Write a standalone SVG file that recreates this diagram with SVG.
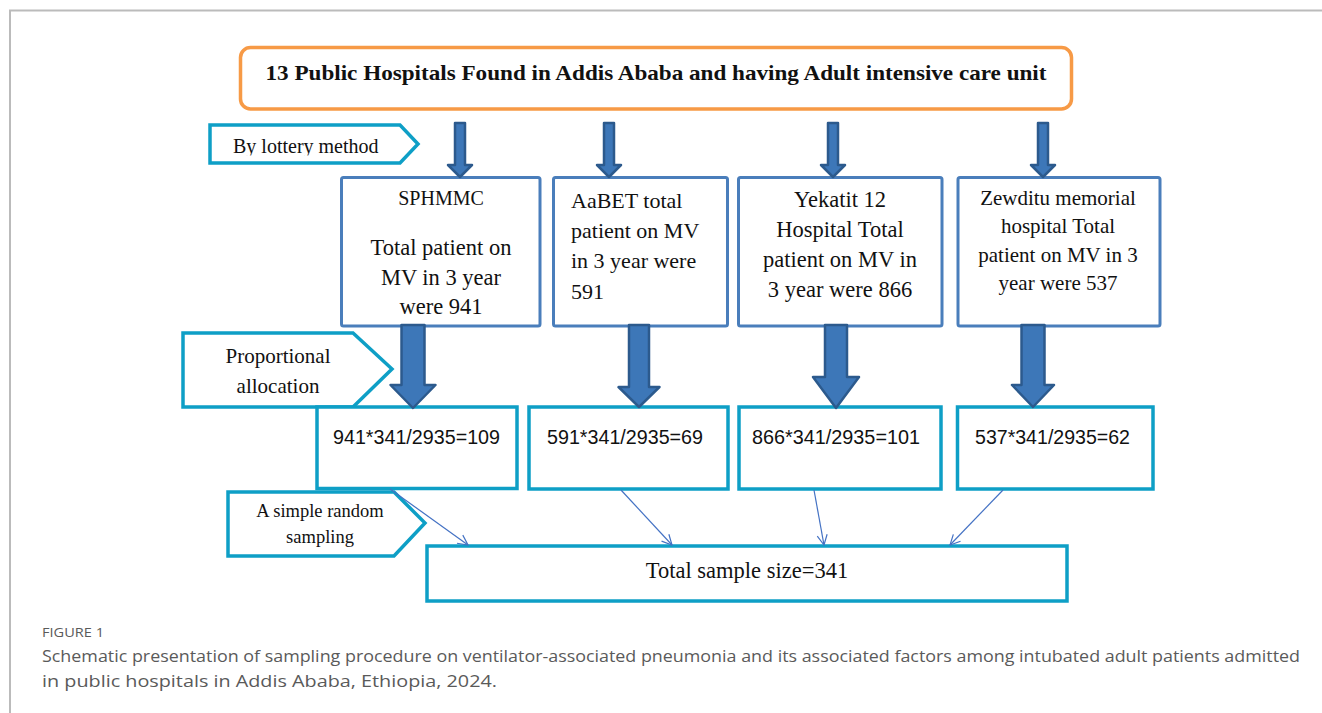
<svg xmlns="http://www.w3.org/2000/svg" width="1322" height="713" viewBox="0 0 1322 713">
<style>
.serif{font-family:"Liberation Serif","Times New Roman",serif;fill:#111}
.calc{font-family:"Liberation Sans",Arial,sans-serif;fill:#111;font-size:20px}
.hosp{fill:#fff;stroke:#4A7EBB;stroke-width:3}
.teal{fill:#fff;stroke:#0E9FC6;stroke-width:3.5}
.big{fill:#3D77B8;stroke:#2C5A8D;stroke-width:2.5;stroke-linejoin:round}
.thin{stroke:#4472C4;stroke-width:1.2;fill:none}
.cap{font-family:"Open Sans","Noto Sans",sans-serif;fill:#5A5A5A}
</style>
<defs>
<marker id="open" viewBox="0 0 12 12" refX="11" refY="6" markerWidth="12" markerHeight="12" markerUnits="userSpaceOnUse" orient="auto">
<path d="M1,1 L11,6 L1,11" fill="none" stroke="#4472C4" stroke-width="1.2"/>
</marker>
<clipPath id="clipLot"><rect x="200" y="120" width="230" height="35.5"/></clipPath>
</defs>
<rect width="1322" height="713" fill="#fff"/>
<g id="frame" stroke="#BBBBBB" stroke-width="2" fill="none">
<path d="M10,713 L10,10.5 L1322,10.5"/>
</g>

<g id="title">
<rect x="240.5" y="47.5" width="831" height="61.5" rx="10" fill="#fff" stroke="#F79A46" stroke-width="3.5"/>
<text class="serif" x="656" y="80" font-size="21" font-weight="bold" text-anchor="middle" textLength="781" lengthAdjust="spacingAndGlyphs">13 Public Hospitals Found in Addis Ababa and having Adult intensive care unit</text>
</g>

<g id="lottery">
<polygon class="teal" points="210,125 400,125 418,144 400,163 210,163"/>
<text class="serif" x="233" y="153" font-size="20" clip-path="url(#clipLot)">By lottery method</text>
</g>

<g id="sphmmc">
<rect class="hosp" x="341.5" y="177.5" width="198.5" height="148.5" rx="2"/>
<text class="serif" text-anchor="middle" x="441" y="205" font-size="20">SPHMMC</text>
<text class="serif" text-anchor="middle" x="441" font-size="22.5"><tspan x="441" y="255">Total patient on</tspan><tspan x="441" y="285">MV in 3 year</tspan><tspan x="441" y="314">were 941</tspan></text>
</g>

<g id="aabet">
<rect class="hosp" x="553.5" y="177.5" width="174" height="148.5" rx="2"/>
<text class="serif" x="571" font-size="22"><tspan x="571" y="208">AaBET total</tspan><tspan x="571" y="238">patient on MV</tspan><tspan x="571" y="268">in 3 year were</tspan><tspan x="571" y="299">591</tspan></text>
</g>

<g id="yekatit">
<rect class="hosp" x="738.5" y="177.5" width="203.5" height="148.5" rx="2"/>
<text class="serif" text-anchor="middle" font-size="22.5"><tspan x="840" y="207">Yekatit 12</tspan><tspan x="840" y="237">Hospital Total</tspan><tspan x="840" y="267">patient on MV in</tspan><tspan x="840" y="297">3 year were 866</tspan></text>
</g>

<g id="zewditu">
<rect class="hosp" x="958" y="177.5" width="202" height="148.5" rx="2"/>
<text class="serif" text-anchor="middle" font-size="21"><tspan x="1058" y="205">Zewditu memorial</tspan><tspan x="1058" y="233">hospital Total</tspan><tspan x="1058" y="262">patient on MV in 3</tspan><tspan x="1058" y="290">year were 537</tspan></text>
</g>

<g id="proportional">
<polygon class="teal" points="183,333 353,333 392,369 353,407 183,407"/>
<text class="serif" text-anchor="middle" font-size="21"><tspan x="278" y="363">Proportional</tspan><tspan x="278" y="393">allocation</tspan></text>
</g>

<g id="calc1">
<rect class="teal" x="317" y="407" width="200" height="81.5"/>
<text class="calc" x="333" y="444" textLength="167" lengthAdjust="spacingAndGlyphs">941*341/2935=109</text>
</g>
<g id="calc2">
<rect class="teal" x="529" y="407" width="199" height="82"/>
<text class="calc" x="547" y="444" textLength="156" lengthAdjust="spacingAndGlyphs">591*341/2935=69</text>
</g>
<g id="calc3">
<rect class="teal" x="739" y="407" width="202" height="82"/>
<text class="calc" x="752" y="444" textLength="168" lengthAdjust="spacingAndGlyphs">866*341/2935=101</text>
</g>
<g id="calc4">
<rect class="teal" x="957.5" y="407" width="195.5" height="82"/>
<text class="calc" x="975" y="444" textLength="155" lengthAdjust="spacingAndGlyphs">537*341/2935=62</text>
</g>

<g id="random">
<polygon class="teal" points="228,492 394,492 425,523 394,556 228,556"/>
<text class="serif" text-anchor="middle" font-size="18.5"><tspan x="320" y="517">A simple random</tspan><tspan x="320" y="543">sampling</tspan></text>
</g>

<g id="total">
<rect class="teal" x="427" y="546" width="640" height="55"/>
<text class="serif" x="747" y="578" font-size="22.5" text-anchor="middle">Total sample size=341</text>
</g>

<g id="connectors">
<polygon class="big" points="455,123 465,123 465,165 472,165 460,177 448,165 455,165"/>
<polygon class="big" points="604,123 614,123 614,165 621,165 609,177 597,165 604,165"/>
<polygon class="big" points="828,123 838,123 838,165 845,165 833,177 821,165 828,165"/>
<polygon class="big" points="1038,123 1048,123 1048,165 1055,165 1043,177 1031,165 1038,165"/>
<polygon class="big" points="401.5,325 424.5,325 424.5,385 435.5,385 413,408 390.5,385 401.5,385"/>
<polygon class="big" points="629,325 649,325 649,387 659.5,387 639,407 618.5,387 629,387"/>
<polygon class="big" points="825,325 847,325 847,377 859,377 836,408 813,377 825,377"/>
<polygon class="big" points="1021.5,325 1044.5,325 1044.5,385 1054,385 1033,407 1012,385 1021.5,385"/>
<line class="thin" x1="390" y1="489" x2="468" y2="545" marker-end="url(#open)"/>
<line class="thin" x1="621" y1="490" x2="672" y2="545" marker-end="url(#open)"/>
<line class="thin" x1="814" y1="490" x2="824" y2="545" marker-end="url(#open)"/>
<line class="thin" x1="1003" y1="490" x2="950" y2="545" marker-end="url(#open)"/>
</g>

<g id="caption">
<text class="cap" x="42" y="637" font-size="13" textLength="62" lengthAdjust="spacingAndGlyphs" fill="#666">FIGURE 1</text>
<text class="cap" x="42" y="662" font-size="17" textLength="1258" lengthAdjust="spacingAndGlyphs">Schematic presentation of sampling procedure on ventilator-associated pneumonia and its associated factors among intubated adult patients admitted</text>
<text class="cap" x="42" y="687" font-size="17" textLength="455" lengthAdjust="spacingAndGlyphs">in public hospitals in Addis Ababa, Ethiopia, 2024.</text>
</g>
</svg>
